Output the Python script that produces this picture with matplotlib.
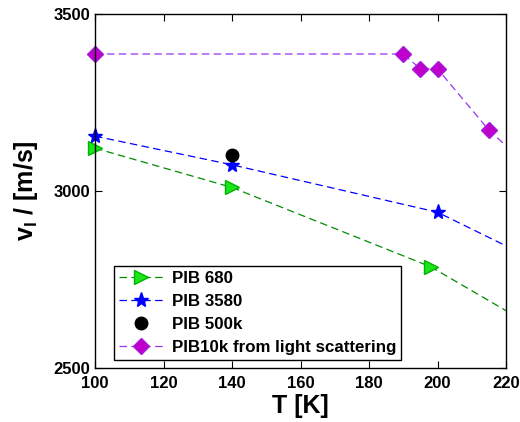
import matplotlib
matplotlib.use('Agg')
import matplotlib.pyplot as plt

plt.rcParams['font.family'] = ['Liberation Sans', 'DejaVu Sans']
plt.rcParams['font.weight'] = 'bold'
plt.rcParams['mathtext.default'] = 'regular'

# Measured points (T in K, longitudinal sound velocity in m/s)
t_680 = [100, 140, 198, 220]
v_680 = [3121, 3010, 2786, 2662]
t_3580 = [100, 140, 200, 220]
v_3580 = [3155, 3074, 2940, 2845]
t_500k = [140]
v_500k = [3103]
t_10k = [100, 190, 195, 200, 215, 220]
v_10k = [3387, 3387, 3345, 3345, 3172, 3128]

labels = ['PIB 680', 'PIB 3580', 'PIB 500k', 'PIB10k from light scattering']

fig = plt.figure(figsize=(5.2, 4.22), dpi=100)
ax = fig.add_axes([0.1827, 0.128, 0.7904, 0.8388])

# last point of each dashed curve is only the extension to the axis edge
ax.plot(t_680, v_680, ls='--', dashes=(6, 3.5), lw=0.9, color=(0, 0.55, 0),
        marker='>', ms=9.5, mfc=(0.1, 0.9, 0.1), mec=(0, 0.7, 0),
        markevery=[0, 1, 2], clip_on=False, label=labels[0])
ax.plot(t_3580, v_3580, ls='--', dashes=(6, 3.5), lw=0.9, color='blue',
        marker='*', ms=11, mfc='blue', mec='blue',
        markevery=[0, 1, 2], clip_on=False, label=labels[1])
ax.plot(t_500k, v_500k, ls='none', marker='o', ms=9, color='black',
        clip_on=False, label=labels[2])
ax.plot(t_10k, v_10k, ls='--', dashes=(6, 3.5), lw=0.9, color=(0.6, 0.2, 0.95),
        marker='D', ms=8, mfc=(0.75, 0, 0.8), mec=(0.65, 0.1, 0.85),
        markevery=[0, 1, 2, 3, 4], clip_on=False, label=labels[3])

ax.set_xlim(100, 220)
ax.set_ylim(2500, 3500)
ax.set_xticks(range(100, 221, 20))
ax.set_yticks([2500, 3000, 3500])
ax.tick_params(direction='in', top=True, right=True, length=5, labelsize=12)
ax.tick_params(axis='x', pad=6)
for s in ax.spines.values():
    s.set_linewidth(1.0)

ax.set_xlabel('T [K]', fontsize=18, fontweight='bold', labelpad=2)
ax.set_ylabel('v$_\\mathregular{l}$ / [m/s]', fontsize=18, fontweight='bold', labelpad=10)

leg = ax.legend(loc='lower left', bbox_to_anchor=(0.046, 0.022), fontsize=12.2,
                handlelength=2.6, handletextpad=0.5, borderpad=0.3,
                labelspacing=0.47, fancybox=False, framealpha=1,
                edgecolor='black', borderaxespad=0)
leg.get_frame().set_linewidth(1.0)

fig.savefig('out.png', dpi=100)
